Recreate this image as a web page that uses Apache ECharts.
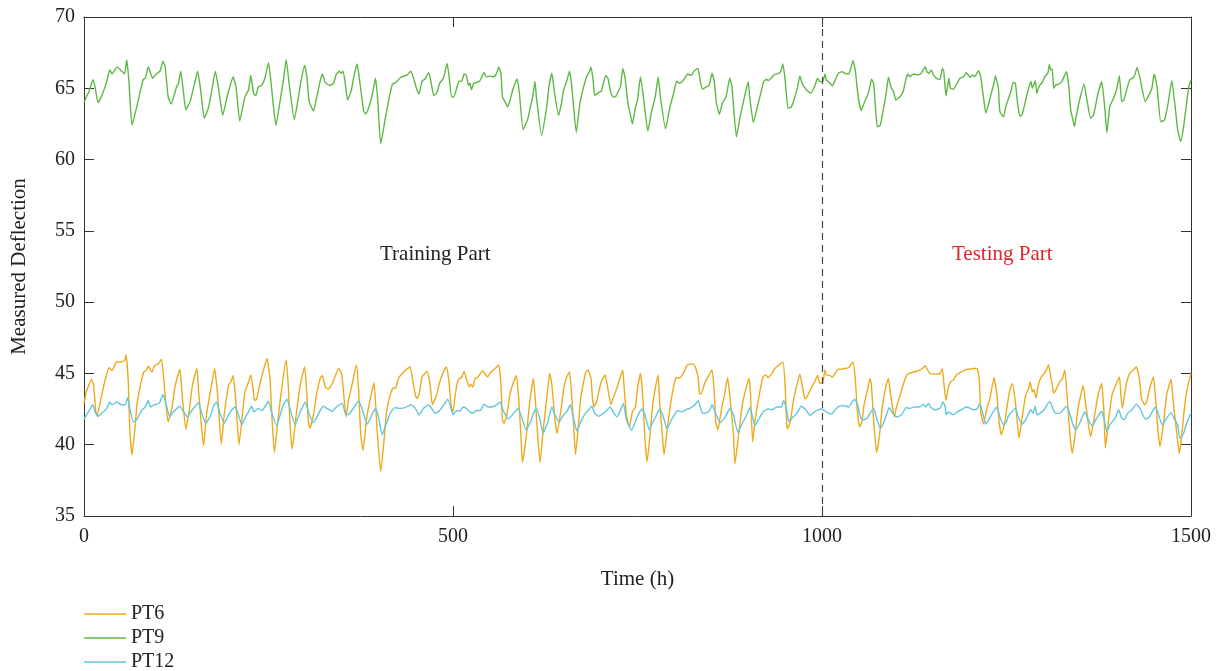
<!DOCTYPE html>
<html>
<head>
<meta charset="utf-8">
<script src="https://cdn.jsdelivr.net/npm/echarts@6/dist/echarts.min.js"></script>
<style>html,body{margin:0;padding:0;background:#fff;}#chart{width:1220px;height:671px;}</style>
</head>
<body>
<div id="chart"></div>
<script>
// ---- data (hour, value) ----
const seriesNames = ['PT6', 'PT9', 'PT12'];
const xTicks = [0, 500, 1000, 1500];
const yTicks = [35, 40, 45, 50, 55, 60, 65, 70];
const splitHour = 1000;
const annotations = ['Training Part', 'Testing Part'];

const pt6 = [
[0,42.9],[3,43.7],[6,44.1],[10,44.6],[13,44.2],[16,42.3],[18,42.1],[23,43.25],[28,44.4],[34,45.4],[38,45.2],[44,45.8],[49,45.8],[55,45.9],[57,46.3],[60,44.4],[62,41.1],[65,39.3],[69,41.1],[72,42.9],[77,44.3],[81,45.1],[84,45.2],[87,45.5],[92,45.1],[95,45.5],[101,45.7],[105,46.0],[108,44.65],[111,42.8],[114,41.6],[119,42.55],[123,43.95],[126,44.65],[130,45.3],[133,43.5],[138,41.1],[143,42.55],[147,44.2],[153,45.35],[155,43.95],[159,41.4],[162,39.9],[166,42.1],[172,43.95],[177,45.35],[181,43.5],[186,40.05],[190,42.1],[196,44.2],[199,44.4],[202,44.85],[205,43.5],[210,40.0],[215,42.3],[218,43.7],[223,44.4],[226,44.9],[229,43.95],[231,43.1],[234,43.2],[238,44.2],[243,45.2],[248,46.05],
[252,44.65],[255,41.6],[258,39.45],[263,41.85],[269,44.4],[274,45.95],[277,43.95],[279,41.6],[282,39.7],[288,42.3],[293,44.2],[299,45.45],[302,43.5],[304,41.6],[306,41.15],[311,42.1],[315,43.5],[320,44.65],[323,44.85],[327,44.05],[331,43.9],[336,44.25],[340,44.75],[345,45.35],[349,45.0],[352,43.5],[355,41.95],[358,43.0],[364,44.4],[369,45.6],[372,43.95],[375,40.7],[378,39.6],[383,41.85],[389,43.5],[393,44.35],[397,41.15],[402,38.1],[406,40.0],[410,42.3],[415,43.5],[419,44.0],[422,43.95],[426,44.65],[431,45.0],[435,45.2],[442,45.45],[445,44.65],[449,43.5],[451,43.25],[454,43.5],[458,44.75],[462,45.0],[465,45.15],[469,44.2],[472,42.8],[478,43.5],[482,44.4],[487,45.1],[491,45.45],[494,44.65],[498,42.55],
[500,42.3],[503,43.5],[507,44.55],[512,44.75],[515,45.15],[518,44.65],[522,44.05],[524,44.25],[527,44.05],[530,44.65],[534,44.75],[540,45.2],[543,45.0],[547,44.75],[550,45.0],[555,45.25],[559,45.45],[562,45.6],[565,44.2],[567,41.75],[569,41.5],[573,42.1],[577,43.5],[582,44.4],[586,44.85],[589,43.25],[592,40.7],[594,38.75],[599,40.45],[604,43.0],[609,44.65],[612,42.8],[615,40.45],[618,38.75],[622,40.9],[627,43.25],[631,45.0],[634,44.2],[638,41.85],[641,40.8],[646,42.3],[650,43.95],[654,44.75],[658,45.1],[661,43.25],[664,40.9],[666,39.3],[670,41.4],[673,43.25],[677,44.4],[680,45.1],[683,45.25],[687,44.65],[689,43.25],[691,42.65],[695,43.1],[699,44.05],[702,44.55],[706,44.9],[709,44.2],[714,42.8],[717,43.25],[722,43.95],[726,44.65],[730,45.25],[732,43.95],[735,42.1],[739,41.25],[743,42.3],[747,42.6],
[750,43.95],[754,45.0],[757,43.5],[760,40.45],[763,38.8],[767,40.7],[771,43.0],[775,44.2],[778,44.9],[780,43.0],[784,40.45],[786,39.3],[791,41.4],[796,43.25],[801,44.55],[803,44.7],[808,44.7],[812,45.0],[817,45.55],[821,45.65],[826,45.65],[829,45.35],[832,44.75],[834,43.6],[836,43.55],[841,44.3],[847,44.9],[851,45.25],[854,43.7],[856,41.6],[859,41.05],[864,42.55],[868,43.5],[872,44.7],[875,43.5],[880,40.7],[882,38.65],[887,40.7],[892,42.8],[897,43.95],[901,44.65],[903,43.7],[906,40.2],[909,41.6],[915,43.5],[920,44.75],[924,44.9],[927,44.7],[932,45.0],[936,45.35],[941,45.55],[947,45.8],[950,44.2],[952,41.6],[953,41.1],[957,41.6],[961,43.0],[966,44.2],[970,44.95],[973,44.2],[977,43.2],[981,43.5],[986,44.05],[990,44.4],[994,44.85],[997,44.3],
[999,44.35],[1001,44.3],[1004,45.25],[1006,44.9],[1011,44.85],[1014,44.75],[1018,45.0],[1022,45.3],[1027,45.3],[1031,45.35],[1036,45.4],[1039,45.6],[1042,45.8],[1045,44.65],[1048,42.3],[1051,41.25],[1054,41.6],[1057,42.8],[1061,43.7],[1065,44.65],[1067,44.2],[1070,41.6],[1074,39.45],[1078,40.7],[1082,42.8],[1087,44.2],[1090,44.65],[1093,43.5],[1098,41.95],[1101,42.65],[1106,43.5],[1110,44.2],[1115,44.9],[1118,45.0],[1124,45.1],[1128,45.15],[1133,45.25],[1136,45.35],[1140,45.55],[1143,45.25],[1146,45.0],[1153,44.95],[1160,45.0],[1163,45.35],[1165,44.4],[1168,43.1],[1171,43.95],[1174,44.4],[1178,44.55],[1183,44.95],[1187,45.05],[1194,45.25],[1200,45.3],[1205,45.35],[1210,45.35],[1213,44.65],[1215,42.3],[1219,41.45],[1223,42.45],[1228,43.35],[1233,44.7],[1237,43.5],[1240,41.6],[1243,40.7],[1247,41.4],
[1252,43.1],[1255,43.95],[1258,44.3],[1262,43.0],[1265,41.4],[1267,40.45],[1271,41.85],[1276,43.5],[1280,43.95],[1282,44.4],[1285,43.7],[1287,43.85],[1290,43.25],[1293,44.2],[1297,44.75],[1301,45.0],[1304,45.25],[1307,45.6],[1310,44.75],[1312,44.2],[1314,43.6],[1318,43.95],[1322,44.4],[1326,44.65],[1329,45.25],[1332,43.5],[1336,40.7],[1339,39.4],[1343,40.7],[1347,42.55],[1354,44.15],[1357,43.0],[1361,41.4],[1364,40.55],[1368,41.6],[1374,43.5],[1379,44.3],[1382,42.3],[1384,39.75],[1388,41.6],[1393,43.5],[1397,44.05],[1403,44.75],[1405,43.5],[1407,42.55],[1410,43.5],[1413,44.4],[1417,45.0],[1422,45.25],[1426,45.45],[1430,44.65],[1433,43.25],[1437,42.8],[1440,43.0],[1444,43.95],[1449,44.75],[1452,43.25],[1455,41.15],[1458,39.85],[1463,41.6],[1467,43.5],[1473,44.6],[1476,43.0],[1481,40.7],[1484,39.4],[1487,40.45],[1492,43.0],[1496,44.2],[1500,45.0]
];

const pt9 = [
[0,64.0],[4,64.5],[7,64.8],[12,65.6],[15,65.1],[19,64.0],[25,64.6],[31,65.5],[35,66.3],[38,66.0],[45,66.5],[51,66.2],[55,66.0],[58,67.0],[61,65.4],[65,62.4],[72,63.8],[80,65.6],[83,65.7],[87,66.5],[93,65.7],[98,66.0],[103,66.2],[107,66.9],[110,66.5],[114,64.4],[118,63.9],[126,65.2],[128,65.3],[131,66.2],[135,64.6],[138,63.5],[144,64.1],[150,65.4],[154,66.2],[158,64.9],[163,62.9],[169,63.7],[174,65.1],[178,66.2],[182,65.1],[188,63.1],[193,64.2],[197,65.0],[202,65.8],[206,65.1],[211,62.7],[218,64.4],[223,64.9],[226,65.9],[230,64.6],[233,64.5],[236,65.1],[241,65.2],[245,65.7],[250,66.8],
[254,65.1],[260,62.4],[266,64.2],[270,65.5],[274,67.0],[278,65.3],[285,62.8],[290,64.2],[294,65.5],[299,66.6],[302,65.8],[305,64.1],[311,63.4],[315,64.3],[320,65.5],[323,66.0],[327,65.4],[333,65.2],[338,65.35],[342,66.0],[346,66.2],[348,66.05],[351,66.2],[354,65.35],[357,64.2],[362,64.8],[366,65.9],[370,66.7],[374,65.35],[379,63.4],[382,63.2],[388,64.0],[392,64.9],[395,65.7],[398,64.2],[402,61.1],[408,62.8],[413,64.2],[418,65.3],[421,65.35],[426,65.6],[430,65.8],[437,65.9],[443,66.2],[446,65.8],[451,64.9],[454,64.6],[458,65.5],[462,65.65],[467,66.1],[470,65.5],[474,64.5],[478,64.65],[482,65.35],[487,65.7],[492,66.75],[495,65.7],[498,64.4],
[501,64.4],[505,65.0],[508,65.5],[512,65.5],[515,66.0],[518,65.9],[521,65.2],[523,65.35],[525,64.9],[528,65.35],[531,65.4],[536,65.5],[539,65.8],[542,66.1],[545,65.8],[550,65.85],[555,65.8],[559,66.05],[562,66.5],[565,66.05],[567,64.4],[570,64.1],[574,63.7],[577,64.1],[581,64.9],[584,65.35],[587,65.65],[590,64.65],[595,62.1],[601,62.8],[606,63.95],[608,64.4],[611,65.5],[613,64.4],[620,61.7],[627,63.7],[630,65.1],[634,66.05],[637,64.9],[643,63.1],[647,63.95],[650,64.9],[654,65.5],[658,66.2],[661,65.1],[667,61.9],[672,63.95],[677,65.1],[681,65.8],[685,66.2],[687,66.5],[690,65.5],[692,64.5],[697,64.7],[701,64.8],[707,65.9],[710,65.7],[714,64.65],[717,64.4],[720,64.4],[724,64.8],[727,65.1],[730,66.4],[733,65.8],[737,63.95],[740,63.25],[743,62.5],[747,63.6],
[750,64.18],[754,65.8],[758,64.4],[764,62.0],[769,63.35],[774,64.4],[778,65.8],[781,64.4],[788,62.15],[794,63.7],[799,64.65],[803,65.5],[807,65.35],[811,65.5],[814,65.7],[818,66.0],[823,65.9],[827,66.24],[832,66.4],[835,65.5],[838,64.93],[842,65.07],[847,65.2],[851,66.05],[854,65.5],[857,63.95],[861,63.18],[865,63.95],[870,64.4],[875,65.7],[878,65.1],[884,61.6],[889,63.0],[895,64.4],[900,65.47],[902,64.4],[907,62.6],[913,63.83],[917,64.65],[921,65.47],[925,65.63],[927,65.54],[931,65.7],[935,65.94],[941,66.05],[944,66.17],[947,66.7],[950,65.59],[954,63.6],[958,63.67],[962,64.18],[967,65.12],[970,65.87],[973,65.35],[979,64.88],[985,64.65],[990,65.12],[994,65.7],[997,65.47],
[1001,65.47],[1004,66.0],[1006,65.59],[1011,65.35],[1014,65.16],[1018,65.59],[1022,66.05],[1027,66.17],[1031,66.05],[1036,66.0],[1039,66.4],[1042,66.94],[1045,66.3],[1049,64.42],[1053,63.43],[1057,63.95],[1061,64.42],[1065,65.12],[1067,65.63],[1070,65.35],[1072,63.95],[1075,62.3],[1079,62.43],[1083,63.48],[1087,64.65],[1090,65.77],[1094,65.0],[1097,64.77],[1100,64.18],[1106,64.42],[1110,64.77],[1113,65.47],[1116,66.0],[1119,65.82],[1124,66.0],[1128,65.94],[1133,66.0],[1136,66.17],[1140,66.52],[1142,66.17],[1145,66.05],[1148,66.28],[1151,65.94],[1155,65.7],[1160,65.63],[1163,66.4],[1165,66.17],[1168,64.46],[1170,65.12],[1172,65.7],[1174,65.0],[1178,64.93],[1183,65.35],[1187,65.7],[1192,65.82],[1195,66.1],[1198,65.94],[1201,65.77],[1204,65.94],[1207,65.82],[1212,66.24],[1215,65.82],[1219,64.3],[1222,63.25],[1226,63.95],[1230,64.77],[1233,65.35],[1235,65.87],[1239,65.0],[1241,63.36],[1246,63.0],[1249,63.7],
[1252,64.18],[1256,64.77],[1259,65.42],[1262,65.35],[1265,63.95],[1268,63.06],[1271,63.13],[1276,64.18],[1280,65.0],[1283,65.5],[1285,65.0],[1289,65.54],[1291,64.65],[1294,65.12],[1299,65.47],[1302,65.82],[1306,66.05],[1308,66.68],[1310,66.28],[1312,66.36],[1314,65.0],[1317,65.24],[1320,65.28],[1325,65.47],[1328,65.82],[1331,66.17],[1334,65.35],[1337,63.48],[1340,62.78],[1342,62.31],[1344,62.9],[1348,63.95],[1355,65.28],[1359,64.18],[1364,62.9],[1368,63.13],[1374,64.65],[1379,65.47],[1383,63.72],[1386,61.89],[1390,63.72],[1395,64.3],[1399,64.88],[1403,65.89],[1406,64.07],[1409,64.18],[1414,65.12],[1417,65.59],[1422,65.75],[1424,65.94],[1427,66.47],[1431,65.7],[1438,64.07],[1442,64.42],[1447,65.0],[1450,66.0],[1454,65.12],[1459,62.66],[1464,62.78],[1469,63.95],[1474,65.54],[1478,63.95],[1482,62.08],[1486,61.26],[1490,62.31],[1494,63.95],[1497,65.12],[1500,65.54]
];

const pt12 = [
[0,41.8],[6,42.3],[12,42.8],[15,42.3],[19,42.0],[24,42.2],[31,42.55],[35,43.0],[38,42.8],[44,43.0],[51,42.8],[56,42.8],[59,43.3],[62,42.55],[67,41.6],[72,41.8],[78,42.4],[83,42.65],[87,43.1],[90,42.65],[95,42.8],[102,42.9],[107,43.5],[111,42.9],[116,41.95],[121,42.3],[126,42.55],[130,42.7],[135,42.3],[140,41.95],[146,42.4],[150,42.65],[155,42.95],[159,42.3],[165,41.5],[172,42.1],[175,42.65],[180,43.0],[183,42.4],[190,41.5],[196,42.1],[200,42.43],[205,42.65],[208,42.3],[214,41.4],[219,41.95],[224,42.4],[227,42.7],[230,42.3],[236,42.55],[241,42.4],[245,42.65],
[250,43.05],[254,42.3],[261,41.35],[267,42.3],[270,42.8],[275,43.2],[279,42.55],[286,41.4],[293,42.3],[300,43.0],[304,42.3],[311,41.55],[318,42.2],[324,42.7],[329,42.55],[336,42.35],[342,42.65],[350,42.9],[354,42.2],[358,42.1],[365,42.55],[372,43.05],[376,42.65],[384,41.45],[390,42.1],[395,42.55],[399,41.95],[404,40.7],[409,41.4],[415,42.2],[421,42.6],[428,42.55],[435,42.6],[443,42.8],[449,42.55],[454,42.1],[460,42.55],[467,42.8],[471,42.55],[476,42.2],[482,42.4],[489,42.9],[493,43.2],[496,42.8],[500,42.1],
[505,42.4],[509,42.35],[514,42.65],[518,42.55],[523,42.3],[527,42.2],[531,42.4],[537,42.4],[542,42.85],[547,42.65],[552,42.65],[559,42.8],[564,43.0],[568,42.4],[575,41.8],[582,42.2],[588,42.55],[593,41.95],[599,41.05],[605,41.6],[609,42.2],[613,42.55],[618,41.75],[622,40.8],[628,41.5],[634,42.65],[638,42.1],[644,41.6],[650,42.1],[654,42.3],[659,42.8],[663,41.95],[668,40.95],[673,41.6],[678,42.1],[683,42.4],[688,42.7],[692,42.2],[697,42.0],[701,42.1],[708,42.4],[713,42.65],[717,42.3],[722,41.95],[726,42.3],[731,42.9],[735,41.75],[742,41.0],[748,41.75],[753,42.3],
[756,42.5],[760,42.1],[766,41.05],[771,41.6],[776,42.1],[780,42.5],[785,41.95],[790,41.1],[796,41.75],[800,42.1],[804,42.4],[810,42.3],[817,42.5],[821,42.55],[824,42.65],[828,42.8],[832,43.1],[835,42.65],[838,42.2],[844,42.25],[848,42.45],[851,42.8],[855,42.3],[862,41.55],[869,41.95],[875,42.55],[880,42.1],[886,40.85],[892,41.5],[898,42.1],[902,42.6],[906,41.95],[909,41.35],[915,41.85],[920,42.3],[927,42.5],[932,42.45],[939,42.65],[945,42.65],[948,43.1],[952,42.45],[955,41.65],[960,41.9],[966,42.2],[972,42.7],[978,42.45],[984,42.05],[990,42.3],[995,42.45],
[999,42.5],[1002,42.45],[1006,42.3],[1013,42.15],[1018,42.45],[1022,42.65],[1029,42.75],[1036,42.65],[1041,43.0],[1044,43.2],[1048,42.85],[1052,41.95],[1055,41.75],[1061,41.85],[1065,42.2],[1070,42.55],[1074,41.85],[1079,41.15],[1084,41.6],[1088,42.2],[1091,42.6],[1096,42.2],[1101,41.95],[1108,42.1],[1114,42.6],[1119,42.55],[1126,42.65],[1133,42.65],[1137,42.85],[1141,42.65],[1144,42.9],[1147,42.65],[1153,42.45],[1160,42.55],[1164,43.0],[1167,42.65],[1168,42.1],[1171,42.3],[1174,42.2],[1178,42.1],[1183,42.3],[1189,42.45],[1195,42.65],[1201,42.55],[1205,42.45],[1210,42.5],[1214,42.9],[1219,41.95],[1222,41.45],[1228,41.95],[1232,42.3],[1237,42.65],[1241,41.95],[1246,41.4],[1250,41.6],
[1252,41.95],[1257,42.3],[1262,42.55],[1266,41.95],[1271,41.45],[1276,41.75],[1280,42.2],[1283,42.45],[1286,42.2],[1289,42.7],[1291,42.1],[1295,42.2],[1301,42.45],[1306,42.9],[1309,43.0],[1312,42.65],[1316,42.2],[1322,42.2],[1327,42.45],[1331,42.7],[1335,42.3],[1340,41.4],[1344,41.05],[1350,41.6],[1356,42.3],[1361,41.75],[1366,41.3],[1372,41.85],[1379,42.35],[1382,41.85],[1386,40.9],[1390,41.4],[1397,41.85],[1402,42.45],[1406,41.85],[1410,41.75],[1414,42.2],[1420,42.45],[1426,42.85],[1431,42.55],[1438,41.8],[1443,41.9],[1449,42.45],[1452,42.65],[1456,42.1],[1461,41.4],[1467,41.85],[1473,42.25],[1478,41.75],[1482,41.4],[1485,40.45],[1490,40.8],[1494,41.5],[1500,42.2]
];

// ---- styling ----
const FONT = '"Liberation Serif", "DejaVu Serif", serif';
const TXT = '#222';
const AX = '#333';
const colors = ['#EDAA1C', '#5DB843', '#63C6DE'];
const FS = 20;
const FS_NAME = 21;

const chart = echarts.init(document.getElementById('chart'), null, {renderer: 'canvas'});

const xCommon = {
  type: 'value', min: xTicks[0], max: xTicks[xTicks.length - 1], interval: 500,
  splitLine: {show: false},
  axisLine: {show: true, onZero: false, lineStyle: {color: AX, width: 1}},
  axisTick: {show: true, inside: true, length: 10, lineStyle: {color: AX}}
};
const yCommon = {
  type: 'value', min: yTicks[0], max: yTicks[yTicks.length - 1], interval: 5,
  splitLine: {show: false},
  axisLine: {show: true, onZero: false, lineStyle: {color: AX, width: 1}},
  axisTick: {show: true, inside: true, length: 10, lineStyle: {color: AX}}
};

const lineSeries = [pt6, pt9, pt12].map((d, i) => ({
  name: seriesNames[i], type: 'line', data: d, xAxisIndex: 0, yAxisIndex: 0,
  symbol: 'none', showSymbol: false, smooth: 0.15,
  lineStyle: {color: colors[i], width: 1.4}, itemStyle: {color: colors[i]},
  emphasis: {disabled: true}, animation: false, z: 3 + i
}));
lineSeries[1].markLine = {
  silent: true, symbol: 'none', label: {show: false}, animation: false,
  lineStyle: {color: '#444', type: [7, 5], width: 1.2},
  data: [{xAxis: splitHour}]
};

chart.setOption({
  backgroundColor: '#fff',
  animation: false,
  textStyle: {fontFamily: FONT},
  grid: {left: 84, right: 29, top: 17, bottom: 155, containLabel: false},
  xAxis: [
    Object.assign({}, xCommon, {
      position: 'bottom',
      axisLabel: {color: TXT, fontSize: FS, fontFamily: FONT, margin: 11, formatter: v => String(v)},
      name: 'Time (h)', nameLocation: 'middle', nameGap: 53,
      nameTextStyle: {color: TXT, fontSize: FS_NAME, fontFamily: FONT}
    }),
    Object.assign({}, xCommon, {position: 'top', axisLabel: {show: false}})
  ],
  yAxis: [
    Object.assign({}, yCommon, {
      position: 'left',
      axisLabel: {color: TXT, fontSize: FS, fontFamily: FONT, margin: 9, formatter: v => String(v)},
      name: 'Measured Deflection', nameLocation: 'middle', nameGap: 54,
      nameTextStyle: {color: TXT, fontSize: FS_NAME, fontFamily: FONT}
    }),
    Object.assign({}, yCommon, {position: 'right', axisLabel: {show: false}})
  ],
  legend: {
    data: seriesNames, orient: 'vertical', left: 79, top: 599, height: 90,
    icon: 'rect', itemWidth: 42, itemHeight: 1.5, itemGap: 4,
    textStyle: {color: TXT, fontSize: FS, fontFamily: FONT, padding: [0, 0, 0, 0]},
    selectedMode: false
  },
  graphic: [
    {type: 'text', left: 380, top: 244, silent: true,
     style: {text: annotations[0], fill: TXT, font: FS_NAME + 'px ' + FONT}},
    {type: 'text', left: 952, top: 244, silent: true,
     style: {text: annotations[1], fill: '#E0262D', font: FS_NAME + 'px ' + FONT}}
  ],
  series: lineSeries
});
</script>
</body>
</html>
